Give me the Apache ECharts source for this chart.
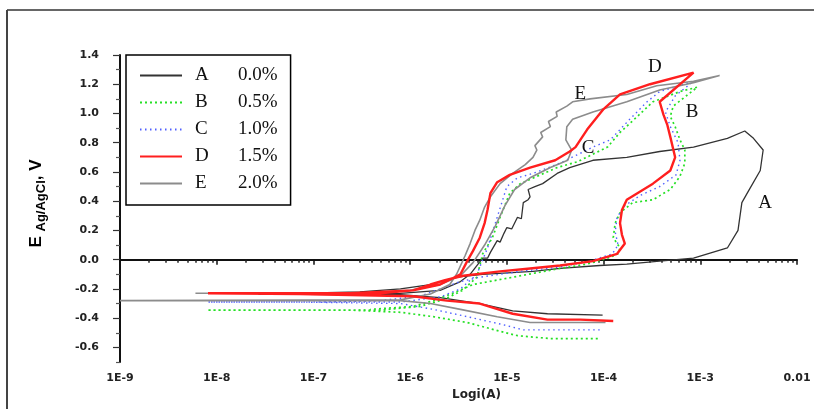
<!DOCTYPE html>
<html><head><meta charset="utf-8">
<script src="https://cdn.jsdelivr.net/npm/echarts@6/dist/echarts.min.js"></script>
<style>html,body{margin:0;padding:0;background:#fff}#c{width:814px;height:409px}</style>
</head><body><div id="c"></div>
<script>
// ---- data (x = log10 of current in A, y = E vs Ag/AgCl in V) ----
const seriesNames = ['A','B','C','D','E'];
const concentrations = ['0.0%','0.5%','1.0%','1.5%','2.0%'];
const xTickValues = [-9,-8,-7,-6,-5,-4,-3,-2];
const xTickLabels = ['1E-9','1E-8','1E-7','1E-6','1E-5','1E-4','1E-3','0.01'];
const yTickValues = [-0.6,-0.4,-0.2,0.0,0.2,0.4,0.6,0.8,1.0,1.2,1.4];

const curveA = [
  [-4.01,-0.38],[-4.58,-0.37],[-4.94,-0.35],[-5.28,-0.30],[-5.69,-0.26],[-6.10,-0.24],
  [-7.57,-0.235],[-6.62,-0.235],[-6.10,-0.23],[-5.69,-0.21],[-5.48,-0.15],[-5.38,-0.10],
  [-5.25,0.01],[-5.20,0.01],[-5.17,0.05],[-5.10,0.13],[-5.07,0.12],[-5.03,0.18],[-5.00,0.22],
  [-4.95,0.21],[-4.89,0.29],[-4.85,0.28],[-4.83,0.39],[-4.78,0.41],[-4.76,0.43],[-4.78,0.48],
  [-4.71,0.50],[-4.63,0.52],[-4.48,0.59],[-4.35,0.63],
  [-4.11,0.68],[-3.76,0.70],[-3.42,0.74],[-3.07,0.77],[-2.72,0.83],[-2.54,0.88],
  [-2.45,0.83],[-2.35,0.75],[-2.38,0.61],[-2.51,0.46],[-2.57,0.39],[-2.61,0.20],[-2.72,0.08],
  [-3.07,0.01],[-3.42,-0.01],[-3.76,-0.03],[-4.04,-0.04],[-4.45,-0.06],[-4.73,-0.08],
  [-5.25,-0.10],[-5.52,-0.12],[-5.79,-0.17],[-6.10,-0.20],[-6.52,-0.22],[-7.21,-0.23]
];
const curveB = [
  [-4.06,-0.54],[-4.55,-0.54],[-4.89,-0.52],[-5.07,-0.49],[-5.41,-0.43],[-5.76,-0.39],[-6.10,-0.36],
  [-6.62,-0.345],[-8.10,-0.345],[-6.31,-0.345],[-5.90,-0.32],[-5.64,-0.27],[-5.46,-0.21],[-5.31,-0.12],
  [-5.25,0.04],[-5.15,0.15],[-5.07,0.29],[-4.97,0.455],[-4.86,0.52],[-4.69,0.57],[-4.48,0.63],
  [-4.27,0.67],[-3.96,0.77],[-3.83,0.87],[-3.65,0.98],[-3.49,1.08],[-3.21,1.15],[-3.03,1.18],
  [-3.28,1.05],[-3.31,0.98],[-3.26,0.91],[-3.21,0.82],[-3.16,0.75],[-3.16,0.66],[-3.21,0.57],
  [-3.31,0.48],[-3.49,0.41],[-3.70,0.39],[-3.83,0.32],[-3.88,0.25],[-3.90,0.15],[-3.83,0.08],
  [-3.85,0.04],[-3.96,0.01],[-4.17,-0.03],[-4.45,-0.06],[-4.94,-0.12],[-5.35,-0.17],[-5.56,-0.23],
  [-5.76,-0.28],[-5.97,-0.32],[-6.41,-0.34]
];
const curveC = [
  [-4.04,-0.48],[-4.45,-0.48],[-4.83,-0.48],[-5.07,-0.44],[-5.41,-0.39],[-5.76,-0.34],[-6.10,-0.30],
  [-7.14,-0.29],[-8.09,-0.29],[-6.10,-0.29],[-5.69,-0.255],[-5.48,-0.20],[-5.31,-0.10],[-5.20,0.08],
  [-5.10,0.29],[-5.00,0.50],[-4.89,0.56],[-4.73,0.59],[-4.45,0.66],[-4.11,0.77],[-3.93,0.82],
  [-3.73,0.96],[-3.55,1.08],[-3.42,1.15],[-3.07,1.22],
  [-3.26,1.12],[-3.36,1.01],[-3.31,0.91],[-3.23,0.80],[-3.21,0.68],[-3.25,0.58],[-3.42,0.50],
  [-3.62,0.44],[-3.78,0.37],[-3.86,0.29],[-3.88,0.19],[-3.85,0.10],[-3.91,0.04],[-4.14,-0.01],
  [-4.45,-0.05],[-4.86,-0.08],[-5.28,-0.12],[-5.48,-0.15],[-5.69,-0.20],[-5.90,-0.25],[-6.31,-0.28],
  [-6.93,-0.29]
];
const curveD = [
  [-3.90,-0.42],[-4.24,-0.41],[-4.58,-0.41],[-4.94,-0.37],[-5.28,-0.30],[-5.62,-0.28],[-5.97,-0.25],
  [-7.14,-0.235],[-8.09,-0.23],[-6.62,-0.23],[-5.97,-0.21],[-5.69,-0.17],[-5.54,-0.12],[-5.48,-0.10],
  [-5.41,-0.01],[-5.35,0.06],[-5.28,0.15],[-5.23,0.25],[-5.20,0.34],[-5.17,0.455],[-5.10,0.53],
  [-4.97,0.58],[-4.76,0.63],[-4.50,0.68],[-4.35,0.74],[-4.29,0.77],[-4.17,0.89],[-4.00,1.03],
  [-3.83,1.13],[-3.52,1.20],[-3.07,1.28],
  [-3.42,1.08],[-3.38,0.99],[-3.34,0.92],[-3.31,0.84],[-3.26,0.70],[-3.31,0.61],[-3.49,0.52],
  [-3.76,0.41],[-3.81,0.34],[-3.83,0.25],[-3.81,0.17],[-3.78,0.11],[-3.86,0.04],[-4.11,-0.01],
  [-4.45,-0.04],[-4.76,-0.06],[-5.07,-0.08],[-5.45,-0.11],[-5.64,-0.14],[-5.79,-0.17],[-5.97,-0.21],
  [-6.31,-0.23],[-7.86,-0.23]
];
const curveE = [
  [-3.98,-0.43],[-4.45,-0.43],[-4.76,-0.43],[-5.10,-0.39],[-5.48,-0.34],[-5.79,-0.30],[-6.10,-0.28],
  [-9.00,-0.28],[-6.10,-0.275],[-5.79,-0.235],[-5.59,-0.17],[-5.52,-0.10],[-5.43,0.03],[-5.38,0.11],
  [-5.33,0.20],[-5.28,0.27],[-5.23,0.36],[-5.17,0.43],[-5.07,0.52],[-4.94,0.59],[-4.81,0.65],
  [-4.73,0.70],[-4.69,0.75],[-4.71,0.78],[-4.63,0.84],[-4.65,0.87],[-4.55,0.91],[-4.57,0.945],
  [-4.48,0.98],[-4.49,1.01],[-4.38,1.05],[-4.32,1.08],
  [-4.14,1.10],[-3.76,1.13],[-3.45,1.19],[-3.07,1.22],[-2.80,1.26],
  [-3.07,1.21],[-3.42,1.16],[-3.76,1.08],[-4.11,1.01],[-4.32,0.96],[-4.38,0.91],[-4.39,0.82],
  [-4.33,0.75],[-4.37,0.68],[-4.55,0.63],[-4.76,0.56],[-4.92,0.48],[-5.02,0.37],[-5.12,0.23],
  [-5.23,0.10],[-5.35,-0.02],[-5.48,-0.11],[-5.69,-0.17],[-6.00,-0.21],[-6.52,-0.23],[-8.22,-0.23]
];
const curveLabelPos = [[-2.33,0.39],[-3.085,1.01],[-4.16,0.765],[-3.47,1.32],[-4.24,1.13]];

// ---- chart ----
const curves = [curveA, curveB, curveC, curveD, curveE];
const styles = [
  {color:'#333333', width:1.3, type:'solid', z:2},
  {color:'#25e025', width:1.7, type:[2,3], z:3},
  {color:'#5060ff', width:1.4, type:[1.5,3.5], z:4},
  {color:'#ff1f1f', width:2.4, type:'solid', z:6},
  {color:'#8c8c8c', width:1.6, type:'solid', z:5}
];
const minorX = [];
for (let d = -9; d < -2; d++) for (let k = 2; k <= 9; k++) minorX.push(d + Math.log10(k));
const minorY = [];
for (let i = -7; i <= 13; i += 2) minorY.push(i / 10);

const serif = 'Liberation Serif';
const chart = echarts.init(document.getElementById('c'), null, {renderer:'canvas'});
const tickFont = {fontFamily:'DejaVu Sans', fontWeight:'bold', fontSize:11, color:'#222'};
const axisLineStyle = {color:'#111', width:2};

chart.setOption({
  animation:false,
  backgroundColor:'#fff',
  grid:{left:120, right:17, top:55, bottom:47, containLabel:false},
  graphic:[
    {type:'line', shape:{x1:7, y1:10, x2:814, y2:10}, style:{stroke:'#666', lineWidth:2}, silent:true},
    {type:'line', shape:{x1:7, y1:10, x2:7, y2:409}, style:{stroke:'#444', lineWidth:2}, silent:true}
  ],
  legend:{
    orient:'vertical', left:126, top:55,
    data:seriesNames,
    backgroundColor:'#fff', borderColor:'#000', borderWidth:1.5,
    padding:[11,13,12,13],
    itemWidth:42, itemHeight:18, itemGap:8,
    itemStyle:{opacity:0},
    formatter: name => '{n|' + name + '}{p|' + concentrations[seriesNames.indexOf(name)] + '}',
    textStyle:{
      fontFamily:serif, fontSize:19, color:'#111',
      rich:{
        n:{fontFamily:serif, fontSize:19, color:'#111', width:43, padding:[0,0,0,8]},
        p:{fontFamily:serif, fontSize:19, color:'#111'}
      }
    }
  },
  xAxis:[
    {
      type:'value', min:-9, max:-2, interval:1, position:'bottom',
      axisLine:{show:true, lineStyle:axisLineStyle},
      axisTick:{show:true, length:5, lineStyle:{color:'#111', width:1.5}},
      splitLine:{show:false},
      axisLabel:Object.assign({margin:11, formatter: v => xTickLabels[xTickValues.indexOf(Math.round(v))] || ''}, tickFont),
      name:'Logi(A)', nameLocation:'middle', nameGap:25,
      nameTextStyle:{fontFamily:'DejaVu Sans', fontWeight:'bold', fontSize:12, color:'#222', padding:[0,0,0,36]}
    },
    {
      type:'value', min:-9, max:-2, position:'bottom',
      axisLine:{show:false}, splitLine:{show:false}, axisLabel:{show:false},
      axisTick:{show:true, length:3, customValues:minorX, lineStyle:{color:'#222', width:1.5}}
    }
  ],
  yAxis:[
    {
      type:'value', min:-0.7, max:1.4, interval:0.1, position:'left',
      axisLine:{show:true, lineStyle:axisLineStyle},
      axisTick:{show:true, length:7, customValues:yTickValues, lineStyle:{color:'#333', width:1.2}},
      splitLine:{show:false},
      axisLabel:Object.assign({margin:21, customValues:yTickValues, formatter: v => v.toFixed(1)}, tickFont),
      name:'{e|E }{s|Ag/AgCl}{e|, V}', nameLocation:'middle', nameGap:72, nameRotate:90,
      nameTextStyle:{
        fontFamily:'Liberation Sans', fontWeight:'bold', fontSize:17, color:'#000', padding:[0,0,0,10],
        rich:{
          e:{fontFamily:'Liberation Sans', fontWeight:'bold', fontSize:17, color:'#000', lineHeight:24, verticalAlign:'middle'},
          s:{fontFamily:'Liberation Sans', fontWeight:'bold', fontSize:13, color:'#000', lineHeight:24, verticalAlign:'bottom'}
        }
      }
    },
    {
      type:'value', min:-0.7, max:1.4, interval:0.1, position:'left',
      axisLine:{show:false}, splitLine:{show:false}, axisLabel:{show:false},
      axisTick:{show:true, length:4, customValues:minorY, lineStyle:{color:'#555', width:1.2}}
    }
  ],
  series: curves.map((c, i) => ({
    name:seriesNames[i], type:'line', data:c,
    xAxisIndex:0, yAxisIndex:0,
    symbol:'none', showSymbol:false, smooth:false, z:styles[i].z,
    lineStyle:{color:styles[i].color, width:styles[i].width, type:styles[i].type},
    itemStyle:{color:styles[i].color},
    markPoint:{
      symbol:'rect', symbolSize:1, silent:true,
      itemStyle:{color:'rgba(0,0,0,0)'},
      label:{show:true, position:'inside', formatter:seriesNames[i], fontFamily:serif, fontSize:19, color:'#111'},
      data:[{coord:curveLabelPos[i]}]
    }
  }))
});
</script>
</body></html>
